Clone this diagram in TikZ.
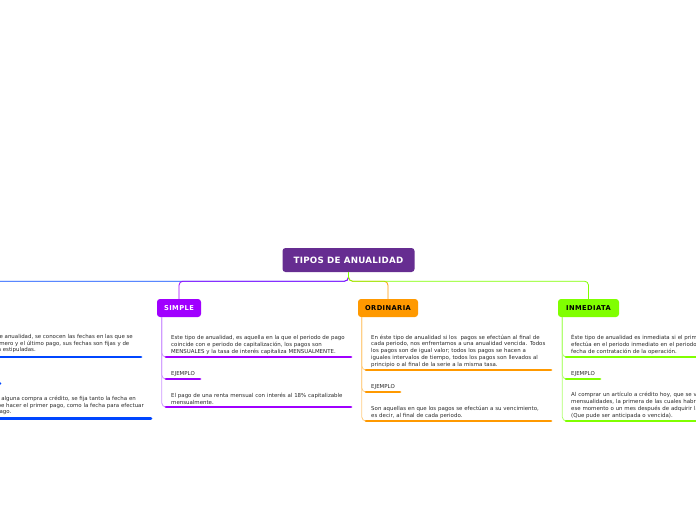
\documentclass[tikz,border=0pt]{standalone}
\usepackage{fontspec}
\setmainfont{DejaVu Sans}
\usetikzlibrary{positioning}

\definecolor{rootc}{RGB}{102,45,145}
\definecolor{purp}{RGB}{160,0,255}
\definecolor{purpl}{RGB}{205,150,255}
\definecolor{oran}{RGB}{255,153,0}
\definecolor{oranl}{RGB}{255,205,130}
\definecolor{lime}{RGB}{128,255,0}
\definecolor{limel}{RGB}{175,255,110}
\definecolor{blu}{RGB}{0,70,255}
\definecolor{txtc}{RGB}{40,40,40}

\tikzset{
  topic/.style={rectangle, rounded corners=3pt, minimum height=18pt, inner xsep=4pt,
    font=\fontsize{6.7}{7}\selectfont\bfseries\addfontfeatures{LetterSpace=6}},
  sub/.style={anchor=south west, inner xsep=5pt, inner ysep=2.6pt, align=left, text=txtc,
    text width=182pt, font=\fontsize{5.45}{6.7}\selectfont},
  cut/.style={anchor=base east, inner sep=0pt, text=txtc, font=\fontsize{5.45}{6.7}\selectfont},
  ul/.style={line width=2.7pt, line cap=round},
  conn/.style={line width=0.8pt, rounded corners=4pt},
}

\begin{document}
\begin{tikzpicture}[x=1pt, y=-1pt]
\useasboundingbox (0,0) rectangle (696,520);
\clip (0,0) rectangle (696,520);

% tema central
\node[topic, fill=rootc, text=white, minimum width=132pt, minimum height=24pt,
  font=\fontsize{8.7}{9}\selectfont\bfseries\addfontfeatures{LetterSpace=3}] (root) at (348.5,260) {TIPOS DE ANUALIDAD};

% subtemas
\node[topic, fill=purp, text=white, minimum width=44pt] (simple) at (179,308) {SIMPLE};
\node[topic, fill=oran, text=black, minimum width=60pt] (ord) at (388,308) {ORDINARIA};
\node[topic, fill=lime, text=black, minimum width=61pt] (inm) at (588.5,308) {INMEDIATA};
\coordinate (cie) at (-40,299);

% conectores del tema central
\draw[conn, blu] (root.south) -- ++(0,9) -| (cie);
\draw[conn, purp] (root.south) -- ++(0,9) -| (simple.north);
\draw[conn, oran] (root.south) -- ++(0,9) -| (ord.north);
\draw[conn, lime] (root.south) -- ++(0,9) -| (inm.north);

% rama izquierda (cortada)
\node[cut] (b1) at (133,338.5) {En este tipo de anualidad, se conocen las fechas en las que se};
\node[cut] (b2) at (129.5,345.2) {inicia el primero y el último pago, sus fechas son fijas y de};
\node[cut] (b3) at (36,351.9) {antemano están estipuladas.};
\draw[ul, blu] (-40,357) -- (141,357);
\draw[ul, blu] (-40,383.5) -- (0,383.5);
\node[cut] (b4) at (136,400.5) {Cuando se realiza alguna compra a crédito, se fija tanto la fecha en};
\node[cut] (b5) at (144,407) {que se debe hacer el primer pago, como la fecha para efectuar};
\node[cut] (b6) at (11.5,413) {el último pago.};
\draw[ul, blu] (-40,418.3) -- (151,418.3);

% SIMPLE
\node[sub] (s1) at (166,357) {Este tipo de anualidad, es aquella en la que el periodo de pago\\
  coincide con e periodo de capitalización, los pagos son\\
  MENSUALES y la tasa de interés capitaliza MENSUALMENTE.};
\node[sub, text width=] (s2) at (166,379) {EJEMPLO};
\node[sub] (s3) at (166,407) {El pago de una renta mensual con interés al 18\% capitalizable\\
  mensualmente.};
\draw[conn, purpl] ([xshift=5pt]simple.south west) |- (s1.south west);
\draw[conn, purpl] ([xshift=5pt]simple.south west) |- (s2.south west);
\draw[conn, purpl] ([xshift=5pt]simple.south west) |- (s3.south west);
\draw[ul, purp] (s1.south west) -- ++(185,0);
\draw[ul, purp] (s2.south west) -- (s2.south east);
\draw[ul, purp] (s3.south west) -- ++(185,0);

% ORDINARIA
\node[sub] (o1) at (366,370) {En éste tipo de anualidad si los\ \ pagos se efectúan al final de\\
  cada periodo, nos enfrentamos a una anualidad vencida. Todos\\
  los pagos son de igual valor; todos los pagos se hacen a\\
  iguales intervalos de tiempo, todos los pagos son llevados al\\
  principio o al final de la serie a la misma tasa.};
\node[sub, text width=] (o2) at (366,392) {EJEMPLO};
\node[sub] (o3) at (366,421) {Son aquellas en que los pagos se efectúan a su vencimiento,\\
  es decir, al final de cada periodo.};
\draw[conn, oranl] ([xshift=4pt]ord.south west) |- (o1.south west);
\draw[conn, oranl] ([xshift=4pt]ord.south west) |- (o2.south west);
\draw[conn, oranl] ([xshift=4pt]ord.south west) |- (o3.south west);
\draw[ul, oran] (o1.south west) -- ++(185,0);
\draw[ul, oran] (o2.south west) -- (o2.south east);
\draw[ul, oran] (o3.south west) -- ++(185,0);

% INMEDIATA
\node[sub] (i1) at (566,357) {Éste tipo de anualidad es inmediata si el primer pago se\\
  efectúa en el periodo inmediato en el periodo siguiente a la\\
  fecha de contratación de la operación.};
\node[sub, text width=] (i2) at (566,379) {EJEMPLO};
\node[sub] (i3) at (566,421) {Al comprar un artículo a crédito hoy, que se va a pagar en\\
  mensualidades, la primera de las cuales habrá de realizarse en\\
  ese momento o un mes después de adquirir la mercancía\\
  (Que pude ser anticipada o vencida).};
\draw[conn, limel] ([xshift=4.5pt]inm.south west) |- (i1.south west);
\draw[conn, limel] ([xshift=4.5pt]inm.south west) |- (i2.south west);
\draw[conn, limel] ([xshift=4.5pt]inm.south west) |- (i3.south west);
\draw[ul, lime] (i1.south west) -- ++(185,0);
\draw[ul, lime] (i2.south west) -- (i2.south east);
\draw[ul, lime] (i3.south west) -- ++(185,0);

\end{tikzpicture}
\end{document}
